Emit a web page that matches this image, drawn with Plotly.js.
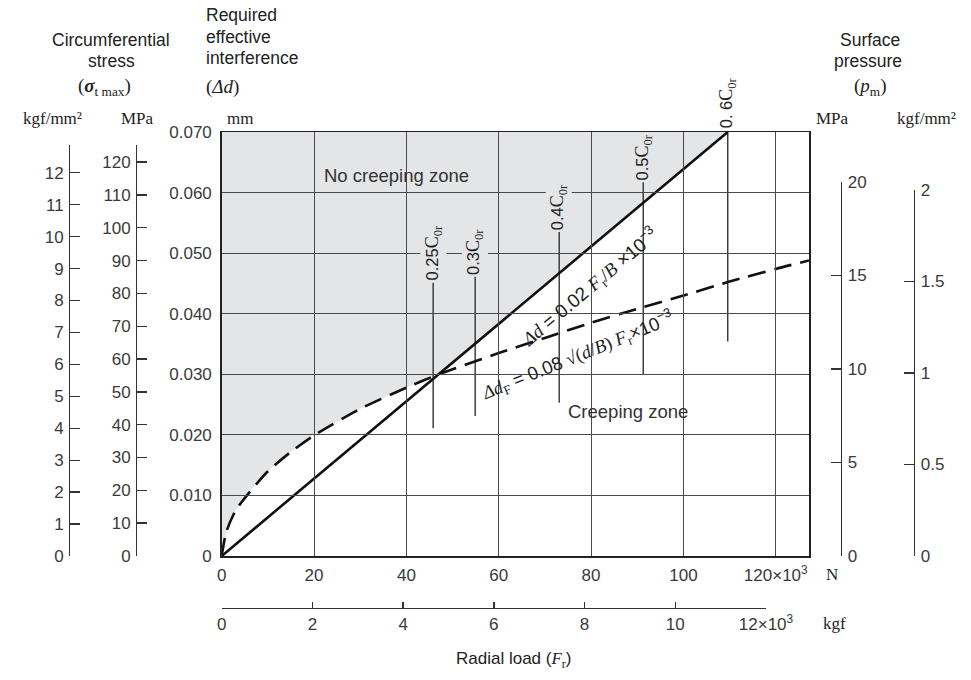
<!DOCTYPE html>
<html><head><meta charset="utf-8">
<script src="https://cdn.plot.ly/plotly-3.0.1.min.js"></script>
<style>html,body{margin:0;padding:0;background:#fff}#chart{width:971px;height:680px}</style>
</head><body><div id="chart"></div>
<script>
// ---------- data ----------
const loadTicksN = [0, 20, 40, 60, 80, 100, 120];
const loadTickLabelsN = ['0', '20', '40', '60', '80', '100', '120×10<sup>3</sup>'];
const loadTicksKgf = [0, 2, 4, 6, 8, 10, 12];
const loadTickLabelsKgf = ['0', '2', '4', '6', '8', '10', '12×10<sup>3</sup>'];
const interfTicks = [0, 0.01, 0.02, 0.03, 0.04, 0.05, 0.06, 0.07];
const interfTickLabels = ['0', '0.010', '0.020', '0.030', '0.040', '0.050', '0.060', '0.070'];
const stressKgfTicks = [0, 1, 2, 3, 4, 5, 6, 7, 8, 9, 10, 11, 12];
const stressMPaTicks = [0, 10, 20, 30, 40, 50, 60, 70, 80, 90, 100, 110, 120];
const pressMPaTicks = [0, 5, 10, 15, 20];
const pressKgfTicks = [0, 0.5, 1, 1.5, 2];
const pressKgfLabels = ['0', '0.5', '1', '1.5', '2'];

// required effective interference, solid line (Δd = 0.02 Fr/B ×10^-3)
const solidLoad = [0, 109.6];
const solidInterf = [0, 0.070];
// dashed curve (Δd_F)
const dashLoad =   [0, 1, 3, 6, 10, 15, 20, 30, 40, 47, 60, 70, 80, 90, 100, 110, 120, 127.2];
const dashInterf = [0, 0.0040, 0.0075, 0.0105, 0.0140, 0.0172, 0.0199, 0.0243, 0.0278, 0.0300, 0.0335, 0.0360, 0.0385, 0.0408, 0.0430, 0.0453, 0.0474, 0.0488];
const crossLoad = 47;

// load lines in multiples of C0r
const markerNames = ['0.25', '0.3', '0.4', '0.5', '0. 6'];
const markerLoad = [45.8, 54.9, 73.1, 91.3, 109.6];
const markerBottom = [0.0211, 0.0231, 0.0253, 0.0300, 0.0354];
const markerTop = [0.0451, 0.0461, 0.0535, 0.0617, 0.0700];

// ---------- geometry helpers ----------
const W = 971, H = 680;
const px = v => v / W, py = v => 1 - v / H;
const plotL = 221.7, plotR = 809, plotT = 132, plotB = 556;
const SANS = 'Liberation Sans, Arial, sans-serif';
const SERIF = 'Liberation Serif, Times New Roman, serif';
const GREY = '#e4e5e7';
const TXT = '#333';

// grey "no creeping" area: above max(dashed, solid)
const pts = [];
dashLoad.forEach((x, i) => { if (x <= crossLoad) pts.push([x, dashInterf[i]]); });
pts.push([solidLoad[1], solidInterf[1]]);
pts.push([0, solidInterf[1]]);
const fillPath = 'M' + pts.map(p => p[0] + ',' + p[1]).join(' L') + ' Z';

// marker segments
const mx = [], my = [];
markerLoad.forEach((x, i) => { mx.push(x, x, null); my.push(markerBottom[i], markerTop[i], null); });

const traces = [
  {x: mx, y: my, mode: 'lines', line: {color: '#333', width: 1.4}, hoverinfo: 'skip', xaxis: 'x', yaxis: 'y'},
  {x: dashLoad, y: dashInterf, mode: 'lines', line: {color: '#111', width: 2.6, dash: '18px,9px', shape: 'spline', smoothing: 0.6}, hoverinfo: 'skip', xaxis: 'x', yaxis: 'y'},
  {x: solidLoad, y: solidInterf, mode: 'lines', line: {color: '#111', width: 2.6}, hoverinfo: 'skip', xaxis: 'x', yaxis: 'y'},
  {x: [null], y: [null], xaxis: 'x', yaxis: 'y2', hoverinfo: 'skip'},
  {x: [null], y: [null], xaxis: 'x', yaxis: 'y3', hoverinfo: 'skip'},
  {x: [null], y: [null], xaxis: 'x', yaxis: 'y4', hoverinfo: 'skip'},
  {x: [null], y: [null], xaxis: 'x', yaxis: 'y5', hoverinfo: 'skip'},
  {x: [null], y: [null], xaxis: 'x2', yaxis: 'y', hoverinfo: 'skip'}
];

const tickFont = {family: SANS, size: 17, color: '#3a3a3a'};
const freeAxis = (extra) => Object.assign({
  anchor: 'free', showgrid: false, zeroline: false, showline: true, linecolor: '#333', linewidth: 1.4,
  ticks: 'inside', ticklen: 10, tickwidth: 1.4, tickcolor: '#333', tickfont: tickFont, fixedrange: true,
  ticklabelstandoff: 2
}, extra);

const annotations = [];
const addText = (text, x, y, opts) => annotations.push(Object.assign({
  text, x: px(x), y: py(y), xref: 'paper', yref: 'paper', showarrow: false,
  font: {family: SANS, size: 17.5, color: '#222'}, xanchor: 'center', yanchor: 'middle'
}, opts || {}));
const serifFont = (s) => ({family: SERIF, size: s, color: '#222'});

// left headers
addText('Circumferential', 111, 40);
addText('stress', 111, 61);
addText('(<b><i>σ</i></b><sub>t max</sub>)', 104, 87, {font: serifFont(19)});
addText('Required', 204, 15, {xanchor: 'left'});
addText('effective', 204, 37, {xanchor: 'left'});
addText('interference', 204, 58, {xanchor: 'left'});
addText('(<i>Δd</i>)', 204, 87, {xanchor: 'left', font: serifFont(19)});
addText('kgf/mm²', 52, 118, {font: serifFont(17)});
addText('MPa', 137, 118, {font: serifFont(17)});
addText('mm', 240, 118, {font: serifFont(17)});
// right headers
addText('Surface', 870, 40);
addText('pressure', 868, 61);
addText('(<i>p</i><sub>m</sub>)', 870, 87, {font: serifFont(19)});
addText('MPa', 832, 118, {font: serifFont(17)});
addText('kgf/mm²', 926, 118, {font: serifFont(17)});
// bottom
addText('N', 832, 574, {font: serifFont(17)});
addText('kgf', 834, 623, {font: serifFont(17)});
addText('Radial load (<span style="font-family:Liberation Serif"><i>F</i><sub>r</sub></span>)', 513, 660, {font: {family: SANS, size: 17, color: '#222'}});

// zone labels (data coords)
annotations.push({text: 'No creeping zone', x: 37.8, y: 0.0629, xref: 'x', yref: 'y', showarrow: false,
  font: {family: SANS, size: 18.5, color: '#333'}});
annotations.push({text: 'Creeping zone', x: 88, y: 0.0238, xref: 'x', yref: 'y', showarrow: false,
  font: {family: SANS, size: 18.5, color: '#333'}});

// formulas
annotations.push({
  text: '<span style="font-family:Liberation Serif"><i>Δd</i></span> = 0.02 <span style="font-family:Liberation Serif"><i>F</i><sub>r</sub>/<i>B</i></span> ×10<sup>−3</sup>',
  x: 79.6, y: 0.0444, xref: 'x', yref: 'y', showarrow: false, textangle: -40,
  font: {family: SANS, size: 19, color: '#222'}
});
annotations.push({
  text: '<span style="font-family:Liberation Serif"><i>Δd</i><sub>F</sub></span> = 0.08 <span style="font-family:Liberation Serif">√(<i>d</i>/<i>B</i>) <i>F</i><sub>r</sub></span>×10<sup>−3</sup>',
  x: 77, y: 0.0331, xref: 'x', yref: 'y', showarrow: false, textangle: -22,
  font: {family: SANS, size: 18.5, color: '#222'}
});

// C0r marker labels, each sitting on top of its line
markerNames.forEach((n, i) => {
  const last = i === markerNames.length - 1;
  annotations.push({
    text: n + '<span style="font-family:Liberation Serif;font-size:18px">C<sub>0r</sub></span>',
    x: markerLoad[i], y: markerTop[i], xref: 'x', yref: 'y', showarrow: false, textangle: -90,
    font: {family: SANS, size: 16.5, color: '#222'},
    bgcolor: last ? 'rgba(0,0,0,0)' : GREY, borderpad: 1,
    yanchor: 'bottom', yshift: last ? 2 : 0
  });
});

const layout = {
  width: W, height: H, margin: {l: 0, r: 0, t: 0, b: 0},
  paper_bgcolor: '#fff', plot_bgcolor: 'rgba(0,0,0,0)', showlegend: false,
  font: {family: SANS, size: 17, color: TXT},
  xaxis: {domain: [px(plotL), px(plotR)], range: [0, 127.2], anchor: 'y', tickvals: loadTicksN, ticktext: loadTickLabelsN,
    showgrid: true, gridcolor: '#4a4a4a', gridwidth: 1, zeroline: false, showline: true, mirror: true,
    linecolor: '#222', linewidth: 1.5, ticks: '', ticklabelstandoff: 3, tickfont: tickFont, fixedrange: true},
  yaxis: {domain: [py(plotB), py(plotT)], range: [0, 0.07], anchor: 'x', tickvals: interfTicks, ticktext: interfTickLabels,
    showgrid: true, gridcolor: '#4a4a4a', gridwidth: 1, zeroline: false, showline: true, mirror: true,
    linecolor: '#222', linewidth: 1.5, ticks: '', ticklabelstandoff: 5, tickfont: tickFont, fixedrange: true},
  xaxis2: freeAxis({domain: [px(plotL), px(766)], range: [0, 12], position: py(608), side: 'bottom',
    tickvals: loadTicksKgf, ticktext: loadTickLabelsKgf, ticklen: 6, ticklabelstandoff: 0}),
  yaxis2: freeAxis({domain: [py(556), py(145)], range: [0, 125.2], position: px(136), side: 'left', tickvals: stressMPaTicks}),
  yaxis3: freeAxis({domain: [py(556), py(145)], range: [0, 12.87], position: px(69), side: 'left', tickvals: stressKgfTicks}),
  yaxis4: freeAxis({domain: [py(556), py(182)], range: [0, 20], position: px(841), side: 'right', tickvals: pressMPaTicks}),
  yaxis5: freeAxis({domain: [py(556), py(190)], range: [0, 2], position: px(914), side: 'right', tickvals: pressKgfTicks, ticktext: pressKgfLabels}),
  shapes: [{type: 'path', path: fillPath, xref: 'x', yref: 'y', fillcolor: GREY, line: {width: 0}, layer: 'below'}],
  annotations
};

Plotly.newPlot('chart', traces, layout, {staticPlot: true, displayModeBar: false});
</script>
</body></html>
